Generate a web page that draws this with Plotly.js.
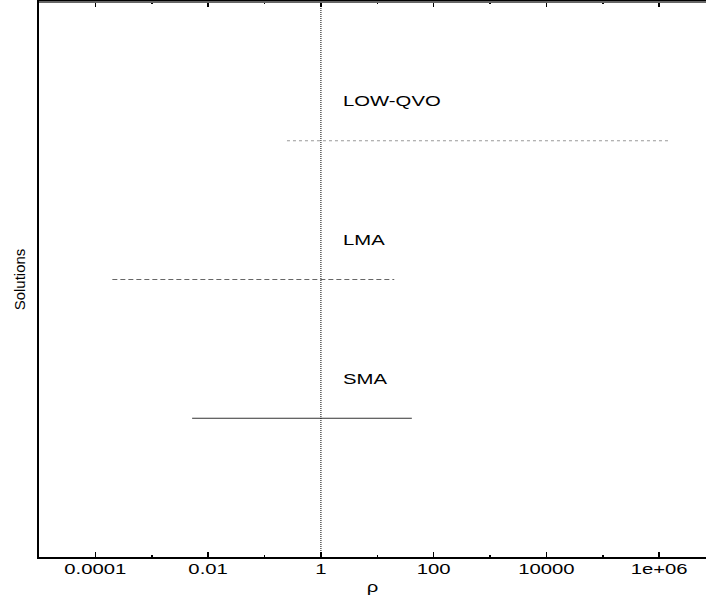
<!DOCTYPE html>
<html><head><meta charset="utf-8">
<script src="https://cdn.plot.ly/plotly-3.0.1.min.js"></script>
<style>html,body{margin:0;padding:0;background:#fff}</style>
</head><body><div id="chart" style="width:706px;height:599px"></div>
<script>
const solutions = ["SMA", "LMA", "LOW-QVO"];
const rhoLow = [0.0052, 0.0002, 0.25];
const rhoHigh = [41, 20, 1.6e6];
const solutionLevel = [1, 2, 3];
const lineDash = ["solid", "5px,3px", "3px,3px"];
const lineColor = ["#333333", "#666666", "#999999"];
const tickVals = [1e-4, 1e-2, 1, 1e2, 1e4, 1e6];
const tickText = ["0.0001", "0.01", "1", "100", "10000", "1e+06"];
const minorVals = [1e-3, 1e-1, 1e1, 1e3, 1e5];

const traces = solutions.map((s, i) => ({
  x: [rhoLow[i], rhoHigh[i]],
  y: [solutionLevel[i], solutionLevel[i]],
  mode: "lines", type: "scatter", name: s, showlegend: false,
  line: {color: lineColor[i], width: 1, dash: lineDash[i]},
  hoverinfo: "skip"
}));
traces.push({
  x: [1, 1], y: [0, 4], mode: "lines", type: "scatter", showlegend: false,
  line: {color: "#000", width: 1, dash: "1px,1px"}, hoverinfo: "skip"
});

const annotations = solutions.map((s, i) => ({
  x: Math.log10(2.26), y: solutionLevel[i] + 0.285, xref: "x", yref: "y",
  text: s, showarrow: false, xanchor: "left", yanchor: "middle",
  font: {family: "Liberation Sans, Arial, sans-serif", size: 14, color: "#000"}
}));

const layout = {
  width: 706, height: 599,
  margin: {l: 39, r: 0, t: 2, b: 42},
  paper_bgcolor: "#fff", plot_bgcolor: "#fff",
  font: {family: "Liberation Sans, Arial, sans-serif", size: 14, color: "#000"},
  xaxis: {
    type: "log", range: [-5, 6.83], tickmode: "array", tickvals: tickVals, ticktext: tickText,
    ticks: "inside", ticklen: 5, tickwidth: 1.5, tickcolor: "#000",
    showline: true, linecolor: "#000", linewidth: 2, mirror: "ticks",
    showgrid: false, zeroline: false,
    minor: {tickmode: "array", tickvals: minorVals, ticks: "inside", ticklen: 2, tickwidth: 1.5, tickcolor: "#000", showgrid: false},
    title: {text: "ρ", font: {size: 14}, standoff: 4},
    tickfont: {size: 14}
  },
  yaxis: {
    range: [0, 4], showticklabels: false, ticks: "", showgrid: false, zeroline: false,
    showline: true, linecolor: "#000", linewidth: 2,
    title: {text: "Solutions", font: {family: "Liberation Sans Narrow, Liberation Sans, sans-serif", size: 15}, standoff: 8}
  },
  shapes: [{type: "line", xref: "paper", yref: "paper", x0: 0, x1: 1, y0: 1, y1: 1,
            line: {color: "#666", width: 2}}],
  annotations: annotations
};
Plotly.newPlot("chart", traces, layout, {displayModeBar: false, staticPlot: true}).then(gd => {
  const stretch = 1.45;
  const apply = (sel, leftAnchor, dy) => {
    gd.querySelectorAll(sel).forEach(el => {
      const bb = el.getBBox();
      const ax = leftAnchor ? bb.x : bb.x + bb.width / 2;
      const t = el.getAttribute("transform") || "";
      el.setAttribute("transform", t + ` translate(0,${dy}) translate(${ax},0) scale(${stretch},1) translate(${-ax},0)`);
    });
  };
  apply(".xtick text", false, -2);
  apply(".g-xtitle text", false, 0);
  apply(".annotation-text", true, 0);
});
</script></body></html>
